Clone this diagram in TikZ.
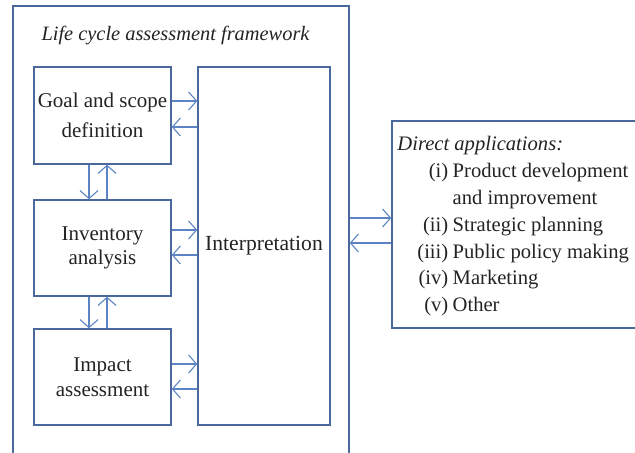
\documentclass[tikz,border=0pt]{standalone}
\usepackage{fontspec}
\setmainfont{Liberation Serif}
\usetikzlibrary{arrows.meta}
\definecolor{boxblue}{RGB}{74,104,156}
\definecolor{arrblue}{RGB}{92,132,196}
\definecolor{txt}{RGB}{35,35,35}
\tikzset{
  box/.style={draw=boxblue, line width=0.7pt, inner sep=0pt, align=center, text=txt},
  arr/.style={draw=arrblue, line width=0.55pt, -{Straight Barb[length=4pt,width=9pt,line width=0.55pt]}},
  lbl/.style={inner sep=0pt, text=txt}
}
\begin{document}
\begin{tikzpicture}[x=0.5pt,y=-0.5pt]
\useasboundingbox (0,0) rectangle (635,453);
% outer framework (open at bottom, runs past the page)
\node[box, minimum width=168pt, minimum height=236pt] (fw) at (181,242) {};
\node[lbl, anchor=base, font=\fontsize{10.2}{12}\selectfont\itshape] (title) at (175.5,41) {Life cycle assessment framework};
% phase boxes
\node[box, minimum width=68.5pt, minimum height=48.5pt, font=\fontsize{10.5}{15.3}\selectfont] (goal) at (102.5,115.5) {Goal and scope\\definition};
\node[box, minimum width=68.5pt, minimum height=48pt, font=\fontsize{10.5}{12.3}\selectfont] (inv) at (102.5,248) {Inventory\\analysis};
\node[box, minimum width=68.5pt, minimum height=48pt, font=\fontsize{10.5}{12.3}\selectfont] (imp) at (102.5,377) {Impact\\assessment};
\node[box, minimum width=66pt, minimum height=179pt, font=\fontsize{10.8}{13}\selectfont] (interp) at (264,246) {Interpretation};
% direct applications box (runs past the right edge)
\node[box, minimum width=134pt, minimum height=103.5pt] (apps) at (526,224.5) {};
\node[lbl, anchor=base west, font=\fontsize{10.3}{13.4}\selectfont] (applist) at (397,151) {%
\begin{tabular}[t]{@{\hspace{10pt}}r@{\hspace{2.2pt}}l@{}}
\multicolumn{2}{@{}l@{}}{\itshape Direct applications:}\\
(i) & Product development\\
 & and improvement\\
(ii) & Strategic planning\\
(iii) & Public policy making\\
(iv) & Marketing\\
(v) & Other
\end{tabular}};
% arrows between phases and interpretation
\draw[arr] ([yshift=7.25pt]goal.east) -- ([yshift=7.25pt]goal.east -| interp.west);
\draw[arr] ([yshift=-5.75pt]goal.east -| interp.west) -- ([yshift=-5.75pt]goal.east);
\draw[arr] ([yshift=9pt]inv.east) -- ([yshift=9pt]inv.east -| interp.west);
\draw[arr] ([yshift=-3.5pt]inv.east -| interp.west) -- ([yshift=-3.5pt]inv.east);
\draw[arr] ([yshift=6.5pt]imp.east) -- ([yshift=6.5pt]imp.east -| interp.west);
\draw[arr] ([yshift=-6pt]imp.east -| interp.west) -- ([yshift=-6pt]imp.east);
% vertical arrows
\draw[arr] ([xshift=-6.75pt]goal.south) -- ([xshift=-6.75pt]goal.south |- inv.north);
\draw[arr] ([xshift=2.25pt]inv.north) -- ([xshift=2.25pt]inv.north |- goal.south);
\draw[arr] ([xshift=-6.75pt]inv.south) -- ([xshift=-6.75pt]inv.south |- imp.north);
\draw[arr] ([xshift=2.25pt]imp.north) -- ([xshift=2.25pt]imp.north |- inv.south);
% arrows between framework and applications
\draw[arr] ([yshift=3.25pt]apps.west -| fw.east) -- ([yshift=3.25pt]apps.west);
\draw[arr] ([yshift=-9.25pt]apps.west) -- ([yshift=-9.25pt]apps.west -| fw.east);
\end{tikzpicture}
\end{document}
